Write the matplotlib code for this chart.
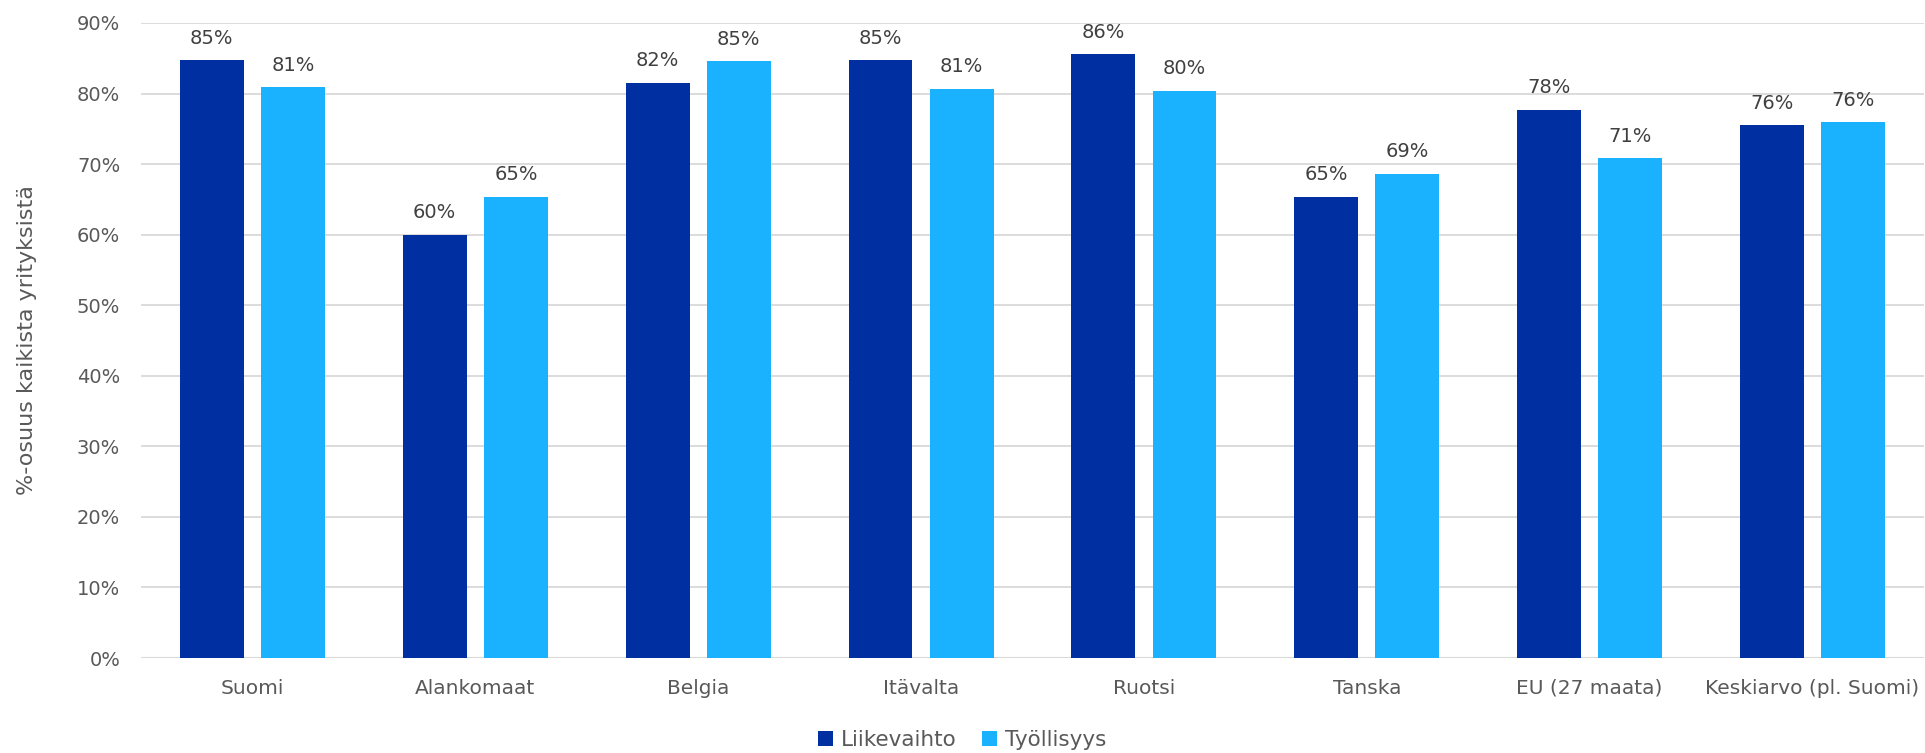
import matplotlib
matplotlib.use("Agg")
import matplotlib.pyplot as plt
import numpy as np

categories = ["Suomi", "Alankomaat", "Belgia", "Itävalta", "Ruotsi", "Tanska",
              "EU (27 maata)", "Keskiarvo (pl. Suomi)"]
liikevaihto = [84.7, 60.0, 81.5, 84.7, 85.6, 65.4, 77.7, 75.5]
tyollisyys = [80.9, 65.4, 84.6, 80.7, 80.4, 68.6, 70.8, 75.9]
series_names = ["Liikevaihto", "Työllisyys"]
yticks = [0, 10, 20, 30, 40, 50, 60, 70, 80, 90]

dark = "#002FA2"
light = "#1AB2FF"
text_col = "#595959"
label_col = "#404040"

plt.rcParams['font.family'] = ['DejaVu Sans']

fig = plt.figure(figsize=(19.25, 7.53), dpi=100)
ax = fig.add_axes([141/1925, 1-658/753, (1924-141)/1925, (658-23)/753])

x = np.arange(len(categories))
w = 0.287
off = 0.182
b1 = ax.bar(x - off, liikevaihto, w, color=dark, label=series_names[0], zorder=3)
b2 = ax.bar(x + off, tyollisyys, w, color=light, label=series_names[1], zorder=3)

for bars, vals in ((b1, liikevaihto), (b2, tyollisyys)):
    for b, v in zip(bars, vals):
        ax.annotate(f"{round(v):d}%", (b.get_x() + b.get_width()/2, v),
                    xytext=(0, 9), textcoords="offset points",
                    ha="center", va="bottom", fontsize=14, color=label_col)

ax.set_xlim(-0.5, len(categories) - 0.5)
ax.set_ylim(0, 90)
ax.set_yticks(yticks)
ax.set_yticklabels([f"{t}%" for t in yticks])
ax.set_xticks(x)
ax.set_xticklabels(categories)
ax.tick_params(axis="both", length=0, colors=text_col)
ax.tick_params(axis="y", pad=15, labelsize=14)
ax.tick_params(axis="x", pad=15, labelsize=14.5)
ax.grid(axis="y", color="#d9d9d9", linewidth=1.3, zorder=0)
for s in ax.spines.values():
    s.set_visible(False)
ax.axhline(0, color="#d9d9d9", linewidth=1.5, zorder=2)

fig.text(27/1925, 1-(658+23)/2/753, "%-osuus kaikista yrityksistä", rotation=90,
         ha="center", va="center", fontsize=16, color=text_col)

leg = fig.legend(handles=[b1, b2], labels=series_names, loc="center",
                 bbox_to_anchor=(962/1925, 1-740/753), ncol=2, frameon=False,
                 fontsize=15.5, handlelength=0.7, handleheight=0.7,
                 handletextpad=0.35, columnspacing=1.2)
for t in leg.get_texts():
    t.set_color(text_col)

fig.savefig("out.png", dpi=100)
